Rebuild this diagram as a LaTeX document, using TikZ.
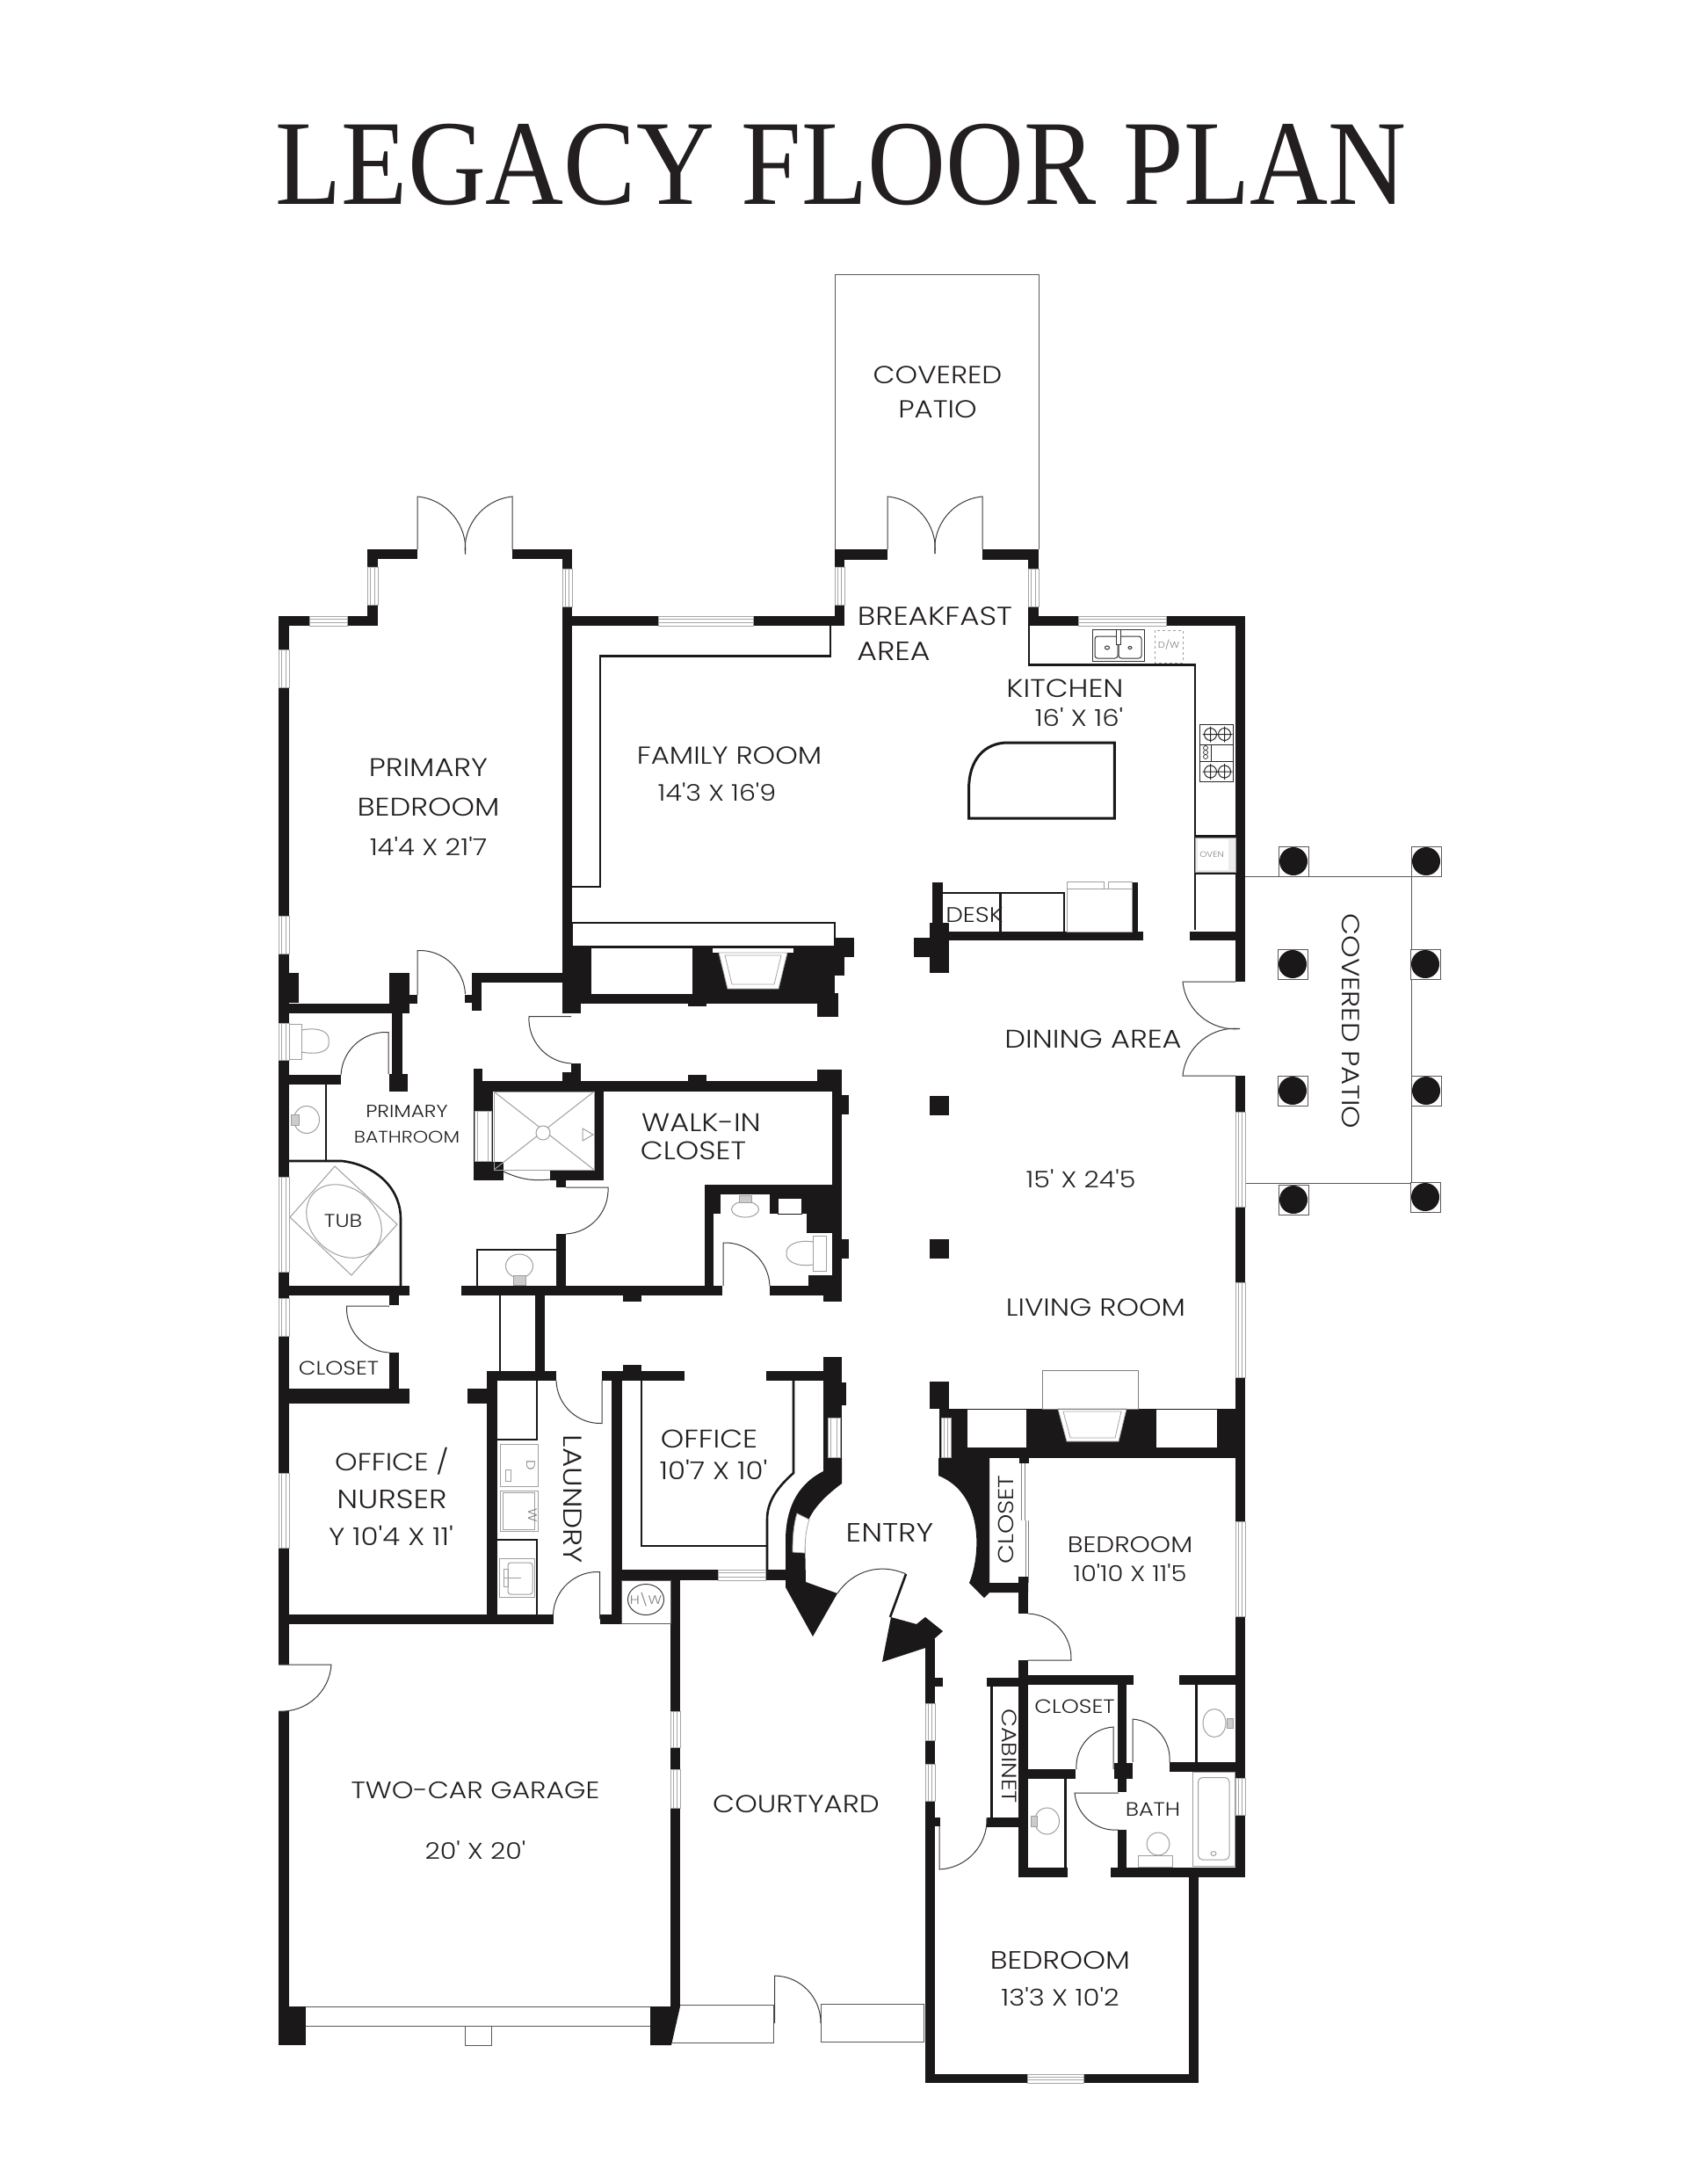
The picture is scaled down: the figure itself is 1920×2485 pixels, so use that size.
\documentclass[tikz,border=0pt]{standalone}
\usepackage{fontspec}
\newfontfamily\planfont[FakeStretch=1.16]{Poppins Light}
\newfontfamily\titlefont{Liberation Serif}
\definecolor{wallblack}{HTML}{1A1818}
\definecolor{planink}{HTML}{231F20}
\tikzset{
    wall/.style={fill=wallblack},
    thinwall/.style={draw=wallblack,line width=2.6pt},
    leaf/.style={draw=wallblack!85,line width=1pt},
    glass/.style={draw=gray!70,fill=white,line width=0.8pt},
    fixture/.style={draw=gray!75,line width=1pt},
    patioline/.style={draw=gray!70!black,line width=0.8pt},
    room/.style={text=planink,inner sep=0pt,font=\planfont\fontsize{#1}{32}\selectfont},
    room/.default=28,
    fixtext/.style={text=gray,inner sep=0pt,font=\planfont\fontsize{#1}{12}\selectfont},
    fixtext/.default=10,
}

\begin{document}
\begin{tikzpicture}[x=1pt,y=-1pt]
    \useasboundingbox (0,0) rectangle (1920,2485);
    \fill[white] (0,0) rectangle (1920,2485);

    \node[text=planink,inner sep=0pt,font=\titlefont\fontsize{138}{150}\selectfont] (title) at (957,187) {\scalebox{0.893}[1]{LEGACY FLOOR PLAN}};

    % outer walls
    \fill[wall] (317,701) rectangle (329,1894);            % primary side
    \fill[wall] (317,1947) rectangle (329,2327);           % garage side
    \fill[wall] (317,701) rectangle (430,712);
    \fill[wall] (418,625) rectangle (430,712);
    \fill[wall] (418,625) rectangle (475,636);
    \fill[wall] (583,625) rectangle (651,636);
    \fill[wall] (640,625) rectangle (651,1153);
    \fill[wall] (640,701) rectangle (961,712);             % family room top
    \fill[wall] (950,625) rectangle (961,712);
    \fill[wall] (950,625) rectangle (1010,637);
    \fill[wall] (1118,625) rectangle (1182,637);
    \fill[wall] (1170,625) rectangle (1182,712);
    \fill[wall] (1170,701) rectangle (1417,712);           % kitchen top
    \fill[wall] (1406,701) rectangle (1417,1117);
    \fill[wall] (1406,1224) rectangle (1417,2136);

    % family room fireplace wall
    \fill[wall] (651,1077) rectangle (950,1142);
    \fill[wall] (950,1067) rectangle (972,1089);
    \fill[wall] (950,1089) rectangle (961,1110);
    \fill[wall] (930,1130) rectangle (954,1157);
    \fill[wall] (783,1142) rectangle (804,1145);
    \fill[white] (673,1079) rectangle (788,1131);          % shelves
    \draw[thinwall,line width=1.5pt,fill=white] (651,1050) rectangle (950,1077);
    \fill[white] (811,1079) rectangle (903,1084);
    \draw[glass,fill=white] (818,1084) -- (896,1084) -- (886,1125) -- (828,1125) -- cycle;
    \draw[glass] (825,1087) -- (889,1087) -- (881,1120) -- (833,1120) -- cycle;
    \draw[thinwall] (651,1009) -- (683,1009) -- (683,746.5) -- (945,746.5) -- (945,712);

    % primary bedroom door and bath walls
    \fill[wall] (443,1107) rectangle (466,1141);
    \fill[wall] (443,1132) rectangle (475,1142);
    \fill[wall] (329,1107) rectangle (340,1141);
    \fill[wall] (537,1107) rectangle (640,1118);
    \fill[wall] (537,1107) rectangle (548,1150);
    \fill[wall] (529,1132) rectangle (548,1141);
    \fill[wall] (640,1140) rectangle (661,1153);
    \fill[wall] (329,1142) rectangle (466,1153);           % wc top
    \fill[wall] (446,1153) rectangle (458,1232);
    \fill[wall] (443,1222) rectangle (464,1242);
    \fill[wall] (329,1223) rectangle (388,1234);
    \fill[wall] (329,1463) rectangle (466,1474);           % tub bottom
    \fill[wall] (443,1474) rectangle (454,1485);
    \fill[wall] (443,1539) rectangle (454,1580);
    \fill[wall] (329,1580) rectangle (466,1597);           % closet bottom
    \draw[thinwall] (371,1234) -- (371,1320);
    \draw[thinwall] (329,1321) -- (389,1321) .. controls (425,1325) and (456,1350) .. (456,1387) -- (456,1464);

    % walk-in closet walls
    \fill[wall] (539,1230) rectangle (958,1242);
    \fill[wall] (539,1216) rectangle (549,1230);
    \fill[wall] (640,1220) rectangle (650,1230);
    \fill[wall] (650,1210) rectangle (661,1230);
    \fill[wall] (783,1223) rectangle (804,1230);
    \fill[wall] (930,1217) rectangle (958,1230);
    \fill[wall] (947,1217) rectangle (958,1481);
    \fill[wall] (958,1246) rectangle (966,1268);
    \fill[wall] (958,1410) rectangle (966,1432);
    \fill[wall] (539,1242) rectangle (561,1343);
    \fill[wall] (539,1322) rectangle (573,1343);
    \fill[wall] (676,1242) rectangle (687,1343);
    \fill[wall] (626,1332) rectangle (687,1343);
    \fill[wall] (633,1343) rectangle (644,1351);
    \fill[wall] (633,1404) rectangle (644,1463);
    \fill[wall] (525,1463) rectangle (822,1474);
    \fill[wall] (709,1474) rectangle (730,1481);
    \draw[thinwall] (543,1463) -- (543,1422) -- (633,1422);
    \fill[wall] (802,1348) rectangle (947,1359);           % closet bath
    \fill[wall] (802,1348) rectangle (812,1463);
    \fill[wall] (812,1359) rectangle (820,1381);
    \fill[wall] (876,1359) rectangle (885,1381);
    \fill[wall] (885,1359) rectangle (947,1363);
    \fill[wall] (912,1359) rectangle (947,1381);
    \fill[wall] (918,1381) rectangle (947,1403);
    \fill[wall] (876,1463) rectangle (947,1474);
    \fill[wall] (920,1451) rectangle (947,1463);
    \fill[wall] (937,1474) rectangle (958,1481);

    % hall and laundry
    \draw[wallblack,line width=2pt] (569,1474) -- (569,1560);
    \fill[wall] (609,1474) rectangle (620,1560);
    \fill[wall] (554,1560) rectangle (633,1571);
    \fill[wall] (554,1560) rectangle (566,1848);
    \fill[wall] (532,1580) rectangle (554,1597);
    \draw[thinwall,line width=2pt] (566,1637.5) -- (610.5,1637.5) -- (610.5,1571);
    \draw[thinwall,line width=2pt] (566,1751.5) -- (611,1751.5) -- (611,1837);
    \fill[wall] (329,1837) rectangle (630,1848);           % garage top
    \fill[wall] (683,1837) rectangle (708,1848);
    \fill[wall] (696,1571) rectangle (708,1848);
    \fill[wall] (685,1560) rectangle (779,1571);           % office top
    \fill[wall] (709,1553) rectangle (730,1560);
    \fill[wall] (872,1560) rectangle (938,1571);
    \draw[thinwall] (730,1571) -- (730,1759) -- (873,1759);
    \draw[thinwall] (903,1571) -- (903,1676) .. controls (885,1692) and (873,1708) .. (873,1729) -- (873,1786);
    \fill[wall] (708,1786) rectangle (896,1798);
    \fill[wall] (763,1786) rectangle (774,2283);           % garage courtyard wall

    % entry
    \fill[wall] (937,1544) rectangle (958,1658);
    \fill[wall] (958,1573) rectangle (963,1599);
    \fill[wall] (937,1674) .. controls (905,1690) and (894,1720) .. (894,1753) -- (894,1806) -- (925,1862) -- (953,1813) -- (917,1800) -- (916,1748) .. controls (916,1725) and (935,1705) .. (958,1688) -- (958,1658) -- (937,1658) -- cycle;
    \draw[glass] (907,1722) -- (921,1729) .. controls (917,1740) and (916,1755) .. (916,1767) -- (902,1766) .. controls (902,1750) and (903,1735) .. (907,1722) -- cycle;
    \fill[wall] (1014,1840) -- (1043,1848) -- (1053,1840) -- (1073,1856) -- (1064,1864) -- (1053,1875) -- (1004,1891) -- cycle;
    \draw[thinwall] (1031,1791) -- (1013,1840);
    \fill[wall] (1068,1659) -- (1126,1659) -- (1126,1801) -- (1170,1801) -- (1170,1812) -- (1126,1812) -- (1120,1818) -- (1103,1801) .. controls (1116,1770) and (1120,1700) .. (1068,1679) -- cycle;
    \fill[wall] (1058,1572) rectangle (1080,1603);         % living room end wall
    \fill[wall] (1069,1603) rectangle (1417,1659);
    \fill[white] (1101,1604) rectangle (1168,1647);
    \fill[white] (1316,1604) rectangle (1385,1647);
    \draw[glass,fill=white] (1204,1603) -- (1282,1603) -- (1273,1640) -- (1214,1640) -- cycle;
    \draw[glass] (1210,1606) -- (1276,1606) -- (1269,1636) -- (1218,1636) -- cycle;
    \draw[fixture,draw=gray] (1186,1603) rectangle (1295,1559);

    % desk and dining
    \fill[wall] (1058,1050) rectangle (1080,1107);
    \fill[wall] (1061,1004) rectangle (1073,1060);
    \fill[wall] (1040,1067) rectangle (1058,1089);
    \fill[wall] (1061,1060) rectangle (1301,1070);
    \fill[wall] (1288,1004) rectangle (1295,1060);
    \fill[wall] (1354,1060) rectangle (1406,1070);
    \draw[thinwall] (1073,1016) -- (1211,1016) -- (1211,1060);
    \draw[thinwall] (1138.5,1016) -- (1138.5,1060);
    \draw[fixture] (1214,1011) rectangle (1288,1060);
    \draw[fixture] (1214,1003) rectangle (1256,1011);
    \draw[fixture] (1261,1003) rectangle (1288,1011);
    \fill[wall] (1058,1247) rectangle (1080,1269);
    \fill[wall] (1058,1410) rectangle (1080,1432);

    % kitchen
    \draw[thinwall,line width=3pt] (1102.6,931) -- (1102.6,897) .. controls (1102.6,865) and (1120,845) .. (1147,845) -- (1268.4,845) -- (1268.4,931) -- cycle;
    \draw[thinwall] (1171,712) -- (1171,756.6) -- (1360,756.6) -- (1360,1058);
    \draw[fixture,draw=gray!40!black] (1243,716) rectangle (1302,752);
    \draw[fixture,draw=gray!40!black,rounded corners=3pt] (1246,724) rectangle (1272,749);
    \draw[fixture,draw=gray!40!black,rounded corners=3pt] (1273,724) rectangle (1299,749);
    \draw[fixture,draw=gray!40!black] (1260,737) ellipse (2.5 and 2) (1286,737) ellipse (2 and 1.5);
    \draw[fixture,draw=gray!40!black,fill=white] (1270,716) rectangle (1275,733);
    \draw[fixture,draw=gray!40!black] (1265,716) -- (1281,716);
    \draw[fixture,dashed] (1314,717) rectangle (1346,754);
    \node[fixtext] (dishwasher) at (1330,734) {D/W};
    \draw[fixture,draw=gray!30!black] (1365,824) rectangle (1403,889);
    \draw[fixture,draw=gray!30!black] (1365,847) -- (1403,847);
    \draw[fixture,draw=gray!30!black] (1365,866) -- (1403,866);
    \draw[fixture,draw=gray!30!black] (1378,866) -- (1378,847);
    \foreach \bx/\by in {1377.5/835.5,1393.5/835.5,1377.5/878,1393.5/878}
        \draw[fixture,draw=gray!30!black] (\bx,\by) circle (7) (\bx-9,\by) -- (\bx+9,\by) (\bx,\by-9) -- (\bx,\by+9);
    \foreach \by in {851,856,861}
        \draw[fixture,draw=gray!30!black,line width=0.7pt] (1372,\by) circle (2.5);
    \fill[wall] (1360,950) rectangle (1406,953);
    \fill[wall] (1360,992) rectangle (1406,995);
    \draw[fixture,fill=gray!15] (1360,953) rectangle (1406,992);
    \fill[white] (1363,955) rectangle (1398,990);
    \node[fixtext=9] (oven) at (1379,972) {OVEN};

    % covered patios
    \draw[patioline] (950,625) -- (950,312) -- (1182,312) -- (1182,625);
    \draw[patioline] (1417,997) -- (1606,997) -- (1606,1346) -- (1417,1346);
    \foreach \px/\py in {1472/980,1623/980,1471/1097,1622/1097,1471/1241,1623/1241,1472/1365,1622/1362}{
        \draw[patioline,fill=white] (\px-17,\py-17) rectangle (\px+17,\py+17);
        \fill[wallblack] (\px,\py) circle (16);
    }

    % bedroom wing
    \fill[wall] (1160,1659) rectangle (1171,1665);
    \draw[gray,line width=1pt] (1162,1665) -- (1162,1730) (1166,1665) -- (1166,1730) (1167,1730) -- (1167,1801) (1170,1730) -- (1170,1801);
    \fill[wall] (1159,1794) rectangle (1170,1836);
    \fill[wall] (1159,1889) rectangle (1170,2136);
    \fill[wall] (1159,1906) rectangle (1290,1917);
    \fill[wall] (1123,1909) rectangle (1159,1919);
    \fill[wall] (1342,1906) rectangle (1406,1917);
    \draw[thinwall] (1128.5,1919) -- (1128.5,2068);
    \fill[wall] (1123,2068) rectangle (1159,2079);
    \fill[wall] (1272,1917) rectangle (1282,2039);
    \fill[wall] (1268,2006) rectangle (1289,2024);
    \fill[wall] (1272,2082) rectangle (1282,2136);
    \fill[wall] (1170,2013) rectangle (1224,2024);
    \draw[thinwall] (1212.5,2024) -- (1212.5,2125);
    \fill[wall] (1331,2005) rectangle (1406,2016);
    \draw[thinwall] (1361.5,1917) -- (1361.5,2005);
    \fill[wall] (1159,2125) rectangle (1215,2136);
    \fill[wall] (1264,2125) rectangle (1417,2136);
    \fill[wall] (1053,1865) rectangle (1064,2370);
    \fill[wall] (1064,1909) rectangle (1073,1919);
    \fill[wall] (1064,2068) rectangle (1070,2078);
    \fill[wall] (1053,2360) rectangle (1364,2370);
    \fill[wall] (1353,2136) rectangle (1364,2370);

    % garage front and courtyard
    \fill[wall] (317,2283) rectangle (348,2327);
    \fill[wall] (740,2283) -- (774,2283) -- (764,2327) -- (740,2327) -- cycle;
    \draw[patioline] (348,2283) -- (740,2283) (348,2305) -- (740,2305);
    \draw[patioline] (529.5,2305) rectangle (559,2327);
    \draw[patioline] (774,2281) -- (880,2281) -- (880,2324) -- (764,2324);
    \draw[patioline] (934,2280) rectangle (1051,2323);

    % windows
    \foreach \xa/\xb/\ya/\yb in {317/329/739/782,317/329/1042/1085,317/329/1164/1206,317/329/1339/1447,317/329/1477/1520,317/329/1676/1761,
        418/430/645/688,640/651/647/690,950/961/645/688,1170/1182/647/690,1406/1417/1265/1373,1406/1417/1459/1567,1406/1417/1731/1839,1406/1417/2023/2065,
        763/774/1947/1988,763/774/2013/2057,1053/1064/1938/1980,1053/1064/2007/2049,942/956/1613/1658,1071/1082/1613/1658,540/559/1264/1321}{
        \draw[glass] (\xa,\ya) rectangle (\xb,\yb);
        \draw[glass] (\xa+3.5,\ya) rectangle (\xb-3.5,\yb);
    }
    \foreach \xa/\xb/\ya/\yb in {352/395/701/712,749/857/701/712,1227/1327/701/712,817/871/1786/1798,1169/1233/2360/2370}{
        \draw[glass] (\xa,\ya) rectangle (\xb,\yb);
        \draw[glass] (\xa,\ya+3.5) rectangle (\xb,\yb-3.5);
    }

    % doors
    \draw[leaf] (475,625) -- (475,565) to[bend left=45] (529.5,630.5);
    \draw[leaf] (583,625) -- (583,565) to[bend right=45] (529.5,630.5);
    \draw[leaf] (1010,625) -- (1010,565) to[bend left=45] (1064,630);
    \draw[leaf] (1118,625) -- (1118,565) to[bend right=45] (1064,630);
    \draw[leaf] (475,1132) -- (475,1081.5) to[bend left=45] (529.5,1131);
    \draw[leaf] (650,1156.5) -- (602,1156.5) to[bend right=45] (650,1210);
    \draw[leaf] (442,1222) -- (442,1174.5) to[bend right=45] (388,1223);
    \draw[leaf] (443,1486) -- (394.5,1486) to[bend right=45] (443,1539);
    \draw[leaf] (644,1351) -- (692,1351) to[bend left=45] (644,1404);
    \draw[leaf] (823,1463) -- (823,1414) to[bend left=45] (876,1463);
    \draw[leaf] (573,1333) to[bend right=15] (626,1342);
    \draw[leaf] (633,1571) to[bend right=45] (685,1619.5) -- (685,1571);
    \draw[leaf] (682.5,1842) -- (682.5,1788.5) to[bend right=45] (629.5,1837);
    \draw[leaf] (317,1894) -- (377,1894) to[bend left=45] (317,1947);
    \draw[leaf] (881.5,2302) -- (881.5,2248) to[bend left=45] (934,2302);
    \draw[leaf] (953,1813) to[bend left=40] (1031,1791);
    \draw[leaf] (1406,1117) -- (1346,1117) to[bend right=45] (1411,1170.5);
    \draw[leaf] (1406,1224) -- (1346,1224) to[bend left=45] (1411,1170.5);
    \draw[leaf] (1170,1836) to[bend left=45] (1219,1889) -- (1170,1889);
    \draw[leaf] (1069,2078) -- (1069,2127) to[bend right=45] (1123,2068);
    \draw[leaf] (1267,2013) -- (1267,1965) to[bend right=45] (1225,2013);
    \draw[leaf] (1289,2005) -- (1289,1956) to[bend left=45] (1331,2005);
    \draw[leaf] (1273,2040) -- (1223,2040) to[bend right=45] (1273,2082);

    % bath fixtures
    \draw[fixture] (329.5,1165) rectangle (343,1205);
    \draw[fixture] (343,1172) .. controls (365,1168) and (376,1175) .. (374,1185) .. controls (376,1195) and (365,1201) .. (343,1197);
    \draw[fixture] (349,1274) ellipse (14.5 and 15.5);
    \draw[fixture,fill=gray!40] (331,1268) rectangle (340,1280);
    \draw[fixture] (381,1327) -- (452,1393) -- (400,1451) -- (330,1385) -- cycle;
    \draw[fixture,rotate around={-42:(391.5,1389.5)}] (391.5,1389.5) ellipse (47 and 37);
    \draw[fixture] (562,1242) rectangle (676,1331);
    \draw[fixture] (562,1242) -- (676,1331) (562,1331) -- (676,1242);
    \draw[fixture,fill=white] (618,1289) circle (8);
    \draw[fixture] (663,1284) -- (675,1291) -- (663,1298) -- cycle;
    \draw[fixture] (591,1440.5) ellipse (15.5 and 13.5);
    \draw[fixture,fill=gray!40] (584,1451) rectangle (598,1462);
    \draw[fixture] (848,1376) ellipse (15.5 and 9);
    \draw[fixture,fill=gray!40] (841,1360) rectangle (855,1368);
    \draw[wallblack,line width=1pt,fill=white] (885,1363) rectangle (912,1381);
    \draw[fixture] (925,1406) rectangle (940,1446);
    \draw[fixture] (925,1413) .. controls (905,1410) and (894,1418) .. (895,1426) .. controls (894,1434) and (905,1442) .. (925,1439);
    \draw[fixture] (1191.5,2072) ellipse (14 and 15);
    \draw[fixture,fill=gray!40] (1173,2066) rectangle (1180,2078);
    \draw[fixture] (1382,1960.5) ellipse (13 and 16);
    \draw[fixture,fill=gray!40] (1396,1955) rectangle (1403,1966);
    \draw[fixture] (1357,2016) rectangle (1405,2123);
    \draw[fixture,rounded corners=5pt] (1363.5,2022.5) rectangle (1399,2116);
    \draw[fixture] (1381,2109) ellipse (3 and 2.5);
    \draw[fixture] (1295,2111) rectangle (1334,2124);
    \draw[fixture] (1318,2098) ellipse (13 and 13);

    % laundry fixtures
    \draw[fixture] (569,1643) rectangle (612.5,1691);
    \draw[fixture] (575,1672) rectangle (581,1685);
    \draw[fixture] (569,1696) rectangle (612.5,1742);
    \draw[fixture] (572,1698) rectangle (608,1740);
    \draw[fixture] (568,1773) rectangle (608,1817);
    \draw[fixture,rounded corners=3pt] (578,1778) rectangle (606,1814);
    \draw[fixture] (573,1795) -- (593,1795);
    \draw[fixture] (573,1785) rectangle (578,1805);
    \draw[wallblack!70,line width=0.8pt] (707.6,1798) rectangle (763.4,1847);
    \draw[leaf] (735,1820) ellipse (20.5 and 17.5);

    % labels
    \node[room=29] (primarybed) at (487.5,873) {PRIMARY};
    \node[room=29] (primarybed2) at (487.5,918) {BEDROOM};
    \node[room=26.5] (primarybed3) at (487.5,963) {14'4 X 21'7};
    \node[room] (family) at (830,860) {FAMILY ROOM};
    \node[room=26] (family2) at (816,901) {14'3 X 16'9};
    \node[room] (patiotop) at (1067,426.5) {COVERED};
    \node[room] (patiotop2) at (1067,466) {PATIO};
    \node[room=29.5] (breakfast) at (1064,701) {BREAKFAST};
    \node[room=30] (breakfast2) at (1017,741) {AREA};
    \node[room=29] (kitchen) at (1212,783) {KITCHEN};
    \node[room=26.5] (kitchen2) at (1228,816) {16' X 16'};
    \node[room=24] (desk) at (1109,1041) {DESK};
    \node[room=29] (dining) at (1244,1182) {DINING AREA};
    \node[room=26] (living) at (1230,1341) {15' X 24'5};
    \node[room] (living2) at (1247,1488) {LIVING ROOM};
    \node[room,rotate=-90] (patioside) at (1537,1162) {COVERED PATIO};
    \node[room=20] (bath) at (463,1264) {PRIMARY};
    \node[room=19] (bath2) at (463,1294) {BATHROOM};
    \node[room=29] (walkin) at (798,1277) {WALK-IN};
    \node[room=29] (walkin2) at (789,1309) {CLOSET};
    \node[room=21] (tub) at (390.5,1389) {TUB};
    \node[room=22] (closetone) at (385.5,1557) {CLOSET};
    \node[room] (office) at (446,1663) {OFFICE /};
    \node[room=30] (office2) at (446,1706) {NURSER};
    \node[room] (office3) at (445,1747) {Y 10'4 X 11'};
    \node[room=29.5,rotate=-90] (laundry) at (652,1706) {LAUNDRY};
    \node[room=29] (study) at (807,1637) {OFFICE};
    \node[room] (study2) at (812,1672) {10'7 X 10'};
    \node[room=30] (entry) at (1012.5,1744) {ENTRY};
    \node[room=24.5,rotate=90] (closettwo) at (1144.5,1729) {CLOSET};
    \node[room=25.5] (bedone) at (1286,1758) {BEDROOM};
    \node[room=25] (bedone2) at (1286,1790) {10'10 X 11'5};
    \node[room=22] (closetthree) at (1223,1942) {CLOSET};
    \node[room=23.5,rotate=-90] (cabinet) at (1148.5,1998) {CABINET};
    \node[room=22] (bathtwo) at (1312,2059) {BATH};
    \node[room=28.5] (bedtwo) at (1206.5,2230) {BEDROOM};
    \node[room=26.5] (bedtwo2) at (1206.5,2272) {13'3 X 10'2};
    \node[room] (courtyard) at (906,2053) {COURTYARD};
    \node[room=27] (garage) at (541,2037) {TWO-CAR GARAGE};
    \node[room=26] (garage2) at (541,2105) {20' X 20'};
    \node[fixtext=14] (hotwater) at (735,1820) {H\textbackslash W};
    \node[fixtext=14,rotate=-90] (dryer) at (604,1667) {D};
    \node[fixtext=14,rotate=-90] (washer) at (606,1724) {W};
\end{tikzpicture}
\end{document}
